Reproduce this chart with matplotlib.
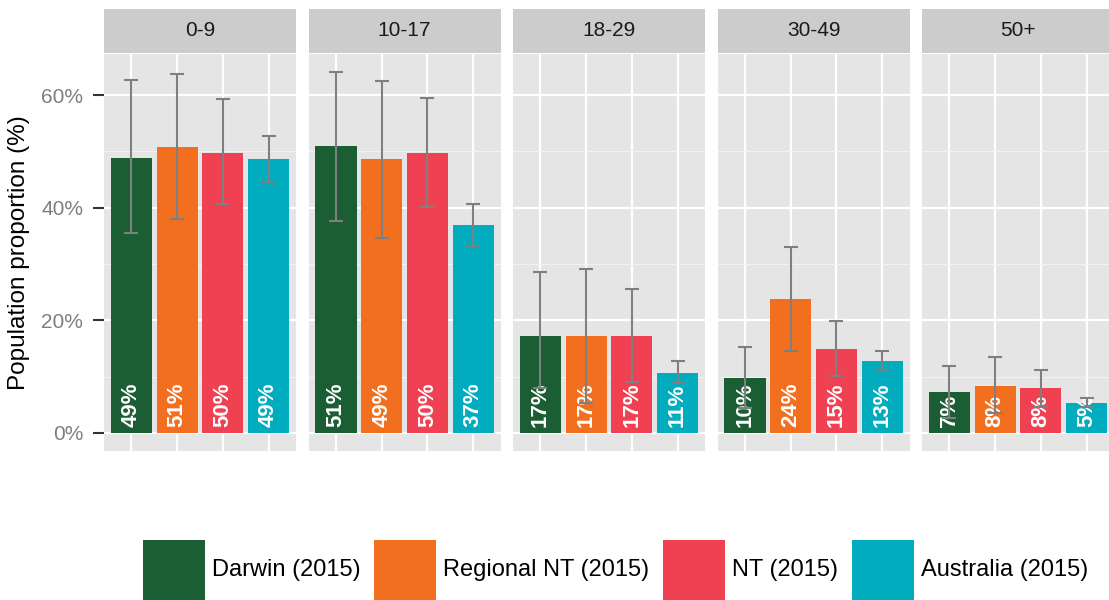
import numpy as np
import matplotlib
matplotlib.use("Agg")
import matplotlib.pyplot as plt
from matplotlib.patches import Patch
from matplotlib.ticker import MultipleLocator, FuncFormatter

# age groups (facets) and series
age_groups = ['0-9', '10-17', '18-29', '30-49', '50+']
series_names = ['Darwin (2015)', 'Regional NT (2015)', 'NT (2015)', 'Australia (2015)']
series_colors = ['#1B5E34', '#F26F1F', '#EF4152', '#00ACBE']

# proportions (%) per series, one value per age group
darwin = [48.9, 50.9, 17.2, 9.8, 7.3]
regional_nt = [50.8, 48.6, 17.2, 23.8, 8.4]
nt = [49.8, 49.7, 17.2, 14.9, 7.9]
australia = [48.6, 36.9, 10.7, 12.8, 5.4]

# confidence intervals
darwin_lo = [35.5, 37.7, 8.0, 4.4, 2.6]
darwin_hi = [62.6, 64.1, 28.6, 15.3, 11.9]
regional_nt_lo = [38.0, 34.6, 5.4, 14.6, 3.6]
regional_nt_hi = [63.7, 62.5, 29.2, 33.1, 13.5]
nt_lo = [40.6, 40.1, 9.1, 10.1, 4.6]
nt_hi = [59.3, 59.4, 25.5, 19.9, 11.2]
australia_lo = [44.6, 33.2, 8.8, 11.1, 4.7]
australia_hi = [52.7, 40.6, 12.8, 14.6, 6.3]

values = np.array([darwin, regional_nt, nt, australia])
lows = np.array([darwin_lo, regional_nt_lo, nt_lo, australia_lo])
highs = np.array([darwin_hi, regional_nt_hi, nt_hi, australia_hi])

plt.rcParams['font.family'] = ['Liberation Sans', 'DejaVu Sans']

W, H = 1109, 600
fig = plt.figure(figsize=(W / 100, H / 100), dpi=100)

panel_w = 192
panel_step = 204.5
panel_top, panel_bot = 54, 451
strip_top, strip_bot = 9, 53

x = np.arange(1, len(series_names) + 1)
axes = []
for g, group in enumerate(age_groups):
    left = 104 + g * panel_step
    ax = fig.add_axes([left / W, 1 - panel_bot / H, panel_w / W, (panel_bot - panel_top) / H])
    axes.append(ax)
    ax.set_facecolor('#E5E5E5')
    ax.set_xlim(0.4, 4.6)
    ax.set_ylim(-3.2, 67.3)
    ax.yaxis.set_major_locator(MultipleLocator(20))
    ax.yaxis.set_minor_locator(MultipleLocator(10))
    ax.set_xticks(x)
    ax.grid(which='major', color='white', linewidth=1.6)
    ax.grid(which='minor', axis='y', color='#F2F2F2', linewidth=0.8)
    ax.set_axisbelow(True)
    for s in ax.spines.values():
        s.set_visible(False)
    ax.tick_params(axis='x', length=0, labelbottom=False)
    if g == 0:
        ax.tick_params(axis='y', which='major', length=8, width=1.5, color='#333333',
                       labelcolor='#7F7F7F', labelsize=15, pad=7)
        ax.yaxis.set_major_formatter(FuncFormatter(lambda v, p: '%d%%' % v))
        ax.set_ylabel('Population proportion (%)', fontsize=17.5, labelpad=8)
    else:
        ax.tick_params(axis='y', which='major', length=0, labelleft=False)
    ax.tick_params(axis='y', which='minor', length=0)

    for i in range(len(series_names)):
        ax.bar(x[i], values[i, g], width=0.9, color=series_colors[i], zorder=2)
        ax.text(x[i], 1.0, '%.0f%%' % values[i, g], rotation=90, rotation_mode='anchor',
                ha='left', va='center', color='white', fontsize=16, fontweight='bold', zorder=3)
        ax.errorbar(x[i], values[i, g],
                    yerr=[[values[i, g] - lows[i, g]], [highs[i, g] - values[i, g]]],
                    fmt='none', ecolor='#7F7F7F', elinewidth=1.5, capsize=5, capthick=1.5, zorder=4)

    # facet strip
    sax = fig.add_axes([left / W, 1 - strip_bot / H, panel_w / W, (strip_bot - strip_top) / H])
    sax.set_facecolor('#CCCCCC')
    sax.set_xticks([])
    sax.set_yticks([])
    for s in sax.spines.values():
        s.set_visible(False)
    sax.text(0.5, 0.5, group, ha='center', va='center', fontsize=15, color='#1A1A1A',
             transform=sax.transAxes)

handles = [Patch(facecolor=c, edgecolor='none') for c in series_colors]
fig.legend(handles, series_names, loc='upper center', bbox_to_anchor=(0.555, 1 - 540 / H),
           ncol=4, frameon=False, handlelength=2.63, handleheight=3.5,
           handletextpad=0.3, columnspacing=0.58, borderpad=0, borderaxespad=0,
           prop={'size': 17})

fig.savefig('out.png', dpi=100)
